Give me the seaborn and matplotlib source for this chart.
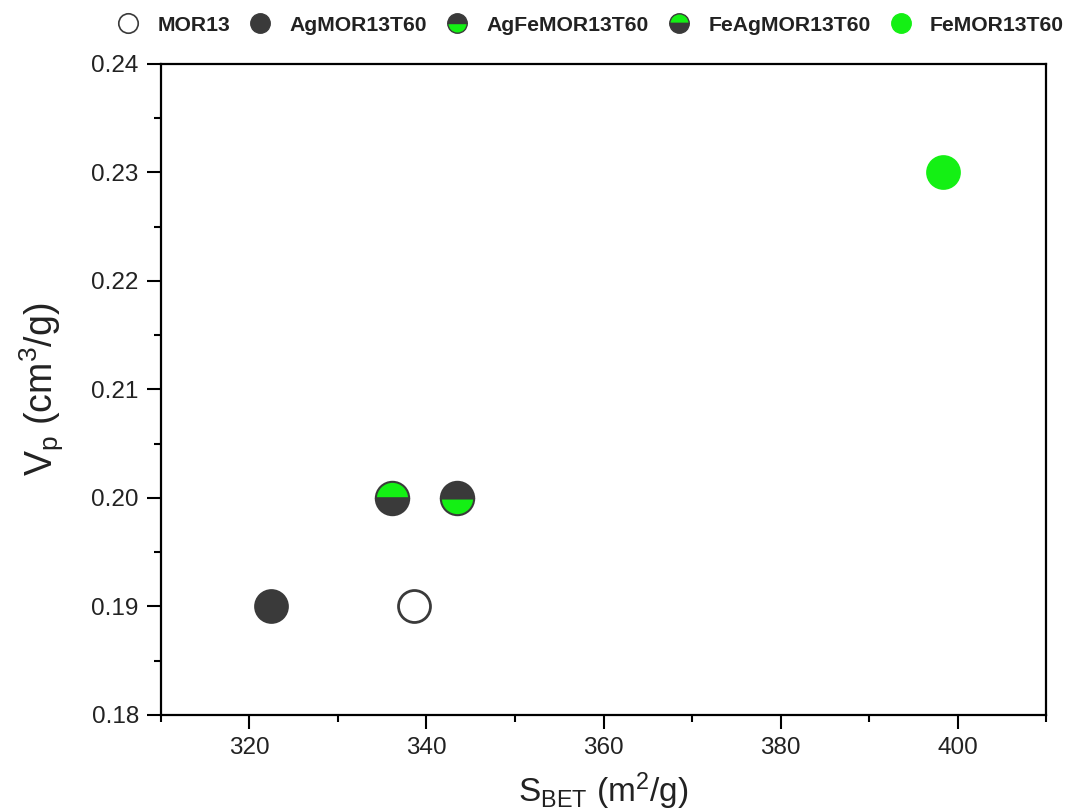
import matplotlib
matplotlib.use("Agg")
import matplotlib.pyplot as plt
from matplotlib.lines import Line2D
from matplotlib.ticker import MultipleLocator, FormatStrFormatter
import seaborn as sns
import pandas as pd

# Sample names and textural properties
samples = ["MOR13", "AgMOR13T60", "AgFeMOR13T60", "FeAgMOR13T60", "FeMOR13T60"]
s_bet = [338.6, 322.4, 343.4, 336.1, 398.3]      # m2/g
v_p = [0.19, 0.19, 0.20, 0.20, 0.23]             # cm3/g

DARK = "#3a3a3a"
GREEN = "#14f014"

sns.set_theme(style="ticks")
plt.rcParams["font.family"] = ["Liberation Sans", "DejaVu Sans"]
plt.rcParams["mathtext.fontset"] = "custom"
plt.rcParams["mathtext.rm"] = "Liberation Sans"
plt.rcParams["mathtext.it"] = "Liberation Sans:italic"
plt.rcParams["mathtext.bf"] = "Liberation Sans:bold"

df = pd.DataFrame({"sample": samples, "S_BET": s_bet, "V_p": v_p})

fig = plt.figure(figsize=(10.84, 8.11), dpi=100)
ax = fig.add_axes([0.1485, 0.1184, 0.8165, 0.8027])

ms = 23
# Uniform markers drawn through seaborn
solid = df[df["sample"].isin(["MOR13", "AgMOR13T60", "FeMOR13T60"])]
face = {"MOR13": "white", "AgMOR13T60": DARK, "FeMOR13T60": GREEN}
edge = {"MOR13": DARK, "AgMOR13T60": DARK, "FeMOR13T60": GREEN}
for _, row in solid.iterrows():
    sns.scatterplot(x=[row["S_BET"]], y=[row["V_p"]], ax=ax, s=ms ** 2,
                    color=face[row["sample"]], edgecolor=edge[row["sample"]],
                    linewidth=2, zorder=3, legend=False)

# Half-filled markers for the bimetallic samples
half_style = {
    "AgFeMOR13T60": dict(fillstyle="top", markerfacecolor=DARK, markerfacecoloralt=GREEN),
    "FeAgMOR13T60": dict(fillstyle="top", markerfacecolor=GREEN, markerfacecoloralt=DARK),
}
for name, style in half_style.items():
    i = samples.index(name)
    ax.plot([s_bet[i]], [v_p[i]], marker="o", linestyle="none", markersize=ms + 1,
            markeredgecolor=DARK, markeredgewidth=1.5, zorder=3, **style)

ax.set_xlim(310, 410)
ax.set_ylim(0.18, 0.24)
ax.xaxis.set_major_locator(MultipleLocator(20))
ax.xaxis.set_minor_locator(MultipleLocator(10))
ax.yaxis.set_major_locator(MultipleLocator(0.01))
ax.yaxis.set_minor_locator(MultipleLocator(0.005))
ax.yaxis.set_major_formatter(FormatStrFormatter("%.2f"))

for side in ["top", "right", "bottom", "left"]:
    ax.spines[side].set_visible(True)
    ax.spines[side].set_linewidth(1.6)
    ax.spines[side].set_color("black")
ax.tick_params(which="major", direction="out", length=10, width=1.5,
               labelsize=17.5, colors="black", pad=6)
ax.tick_params(which="minor", direction="out", length=5, width=1.5, colors="black")
for lbl in ax.get_xticklabels() + ax.get_yticklabels():
    lbl.set_color("#222222")

ax.set_xlabel(r"S$_{\mathrm{BET}}$ (m$^{2}$/g)", fontsize=24, color="#222222", labelpad=8)
ax.set_ylabel(r"V$_{\mathrm{p}}$ (cm$^{3}$/g)", fontsize=27, color="#222222", labelpad=18)
ax.set_facecolor("white")

# Legend across the top
lms = 14
handles = [
    Line2D([], [], marker="o", linestyle="none", markersize=lms,
           markerfacecolor="white", markeredgecolor=DARK, markeredgewidth=1.2),
    Line2D([], [], marker="o", linestyle="none", markersize=lms,
           markerfacecolor=DARK, markeredgecolor=DARK),
    Line2D([], [], marker="o", linestyle="none", markersize=lms, fillstyle="top",
           markerfacecolor=DARK, markerfacecoloralt=GREEN, markeredgecolor=DARK,
           markeredgewidth=1.0),
    Line2D([], [], marker="o", linestyle="none", markersize=lms, fillstyle="top",
           markerfacecolor=GREEN, markerfacecoloralt=DARK, markeredgecolor=DARK,
           markeredgewidth=1.0),
    Line2D([], [], marker="o", linestyle="none", markersize=lms,
           markerfacecolor=GREEN, markeredgecolor=GREEN),
]
leg = fig.legend(handles, samples, loc="center left", bbox_to_anchor=(0.108, 0.969),
                 ncol=5, frameon=False, handlelength=1.0, handletextpad=0.9,
                 columnspacing=0.92, borderpad=0, borderaxespad=0,
                 prop={"weight": "bold", "size": 15.2})
for t in leg.get_texts():
    t.set_color("#222222")

fig.savefig("out.png", dpi=100, facecolor="white")
